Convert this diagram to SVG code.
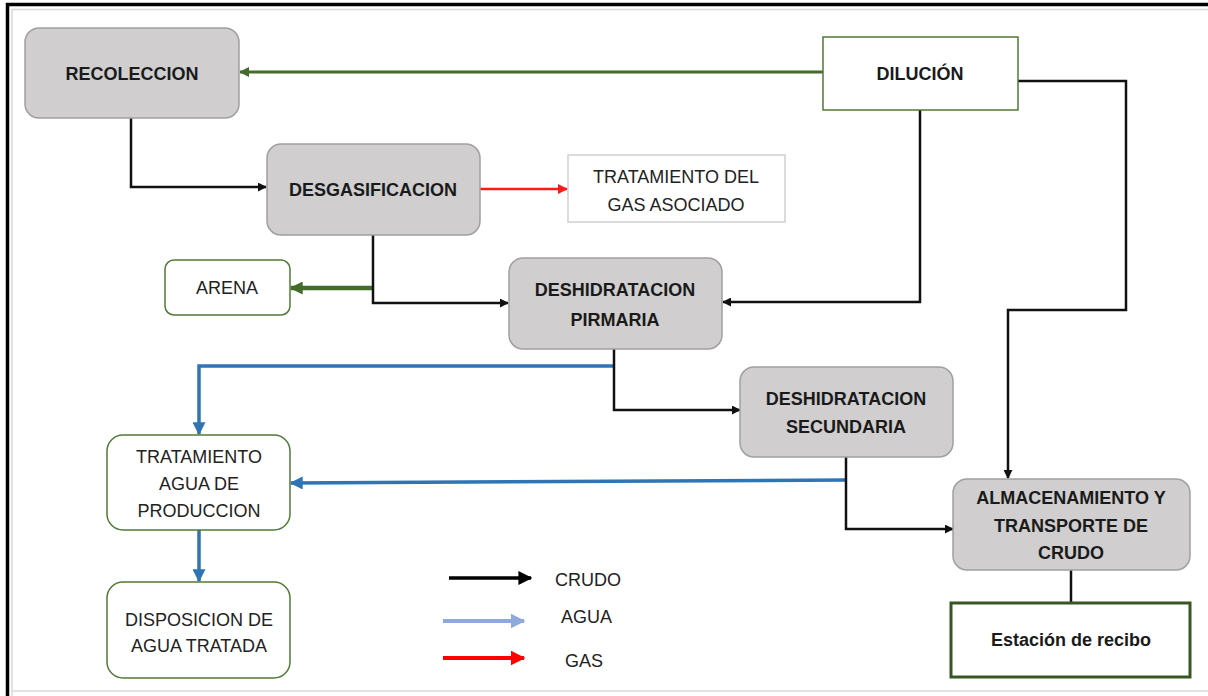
<svg xmlns="http://www.w3.org/2000/svg" width="1208" height="696" viewBox="0 0 1208 696">
<style>
.proc{fill:#d0cecf;stroke:#a0a0a0;stroke-width:1.5}
.gbox{fill:#ffffff;stroke:#507a34;stroke-width:1.5}
.lbox{fill:#ffffff;stroke:#d0d0d0;stroke-width:1.5}
.b{font-family:"Liberation Sans",Arial,sans-serif;font-weight:bold;font-size:18px;fill:#1a1a1a;text-anchor:middle}
.r{font-family:"Liberation Sans",Arial,sans-serif;font-size:18px;fill:#222;text-anchor:middle}
.rl{font-family:"Liberation Sans",Arial,sans-serif;font-size:18px;fill:#222}
.k{fill:none;stroke:#111;stroke-width:2.5}
.g{fill:none;stroke:#436b2b;stroke-width:3}
.bl{fill:none;stroke:#2e75b6;stroke-width:3.5}
.rd{fill:none;stroke:#ff1a1a;stroke-width:2.5}
</style>
<defs>
<marker id="ak" viewBox="0 0 10 10" refX="9" refY="5" markerWidth="9" markerHeight="9" markerUnits="userSpaceOnUse" orient="auto"><path d="M0,0 L10,5 L0,10 z" fill="#111"/></marker>
<marker id="ag" viewBox="0 0 10 10" refX="9" refY="5" markerWidth="10" markerHeight="10" markerUnits="userSpaceOnUse" orient="auto"><path d="M0,0 L10,5 L0,10 z" fill="#436b2b"/></marker>
<marker id="ag2" viewBox="0 0 10 10" refX="9" refY="5" markerWidth="13" markerHeight="13" markerUnits="userSpaceOnUse" orient="auto"><path d="M0,0 L10,5 L0,10 z" fill="#436b2b"/></marker>
<marker id="ab" viewBox="0 0 10 10" refX="9" refY="5" markerWidth="13" markerHeight="13" markerUnits="userSpaceOnUse" orient="auto"><path d="M0,0 L10,5 L0,10 z" fill="#2e75b6"/></marker>
<marker id="ar" viewBox="0 0 10 10" refX="9" refY="5" markerWidth="10" markerHeight="10" markerUnits="userSpaceOnUse" orient="auto"><path d="M0,0 L10,5 L0,10 z" fill="#ff1a1a"/></marker>
<marker id="Lk" viewBox="0 0 10 10" refX="9" refY="5" markerWidth="14" markerHeight="14" markerUnits="userSpaceOnUse" orient="auto"><path d="M0,0 L10,5 L0,10 z" fill="#000"/></marker>
<marker id="Lb" viewBox="0 0 10 10" refX="9" refY="5" markerWidth="15" markerHeight="15" markerUnits="userSpaceOnUse" orient="auto"><path d="M0,0 L10,5 L0,10 z" fill="#8eaadb"/></marker>
<marker id="Lr" viewBox="0 0 10 10" refX="9" refY="5" markerWidth="15" markerHeight="15" markerUnits="userSpaceOnUse" orient="auto"><path d="M0,0 L10,5 L0,10 z" fill="#ff0000"/></marker>
</defs>
<rect x="0" y="0" width="1208" height="696" fill="#ffffff"/>
<g id="frame">
<path d="M12,696 V9.5 H1208 M12,691 H1208" fill="none" stroke="#d9d9d9" stroke-width="1.5"/>
<path d="M7.5,696 V4.5 H1208" fill="none" stroke="#000" stroke-width="3.5"/>
</g>
<g id="connectors">
<path class="g" d="M823,72 H240" marker-end="url(#ag)"/>
<path class="k" d="M131,118 V187 H266" marker-end="url(#ak)"/>
<path class="rd" d="M480,189 H567" marker-end="url(#ar)"/>
<path class="g" style="stroke-width:4.5" d="M373,288 H291" marker-end="url(#ag2)"/>
<path class="k" d="M373,235 V303 H508" marker-end="url(#ak)"/>
<path class="k" d="M920,110 V302 H723" marker-end="url(#ak)"/>
<path class="k" d="M1018,81 H1126 V310 H1008 V478" marker-end="url(#ak)"/>
<path class="bl" d="M614,366 H199 V434" marker-end="url(#ab)"/>
<path class="k" d="M614,349 V410 H740" marker-end="url(#ak)"/>
<path class="bl" d="M846,480 L291,483" marker-end="url(#ab)"/>
<path class="k" d="M846,457 V529 H953" marker-end="url(#ak)"/>
<path class="k" d="M1071,570 V602"/>
<path class="bl" d="M199,530 V581" marker-end="url(#ab)"/>
</g>
<g id="recoleccion"><rect class="proc" x="25" y="28" width="214" height="90" rx="14"/><text class="b" x="132" y="80">RECOLECCION</text></g>
<g id="dilucion"><rect class="gbox" x="823" y="37" width="195" height="73"/><text class="b" x="920" y="80">DILUCIÓN</text></g>
<g id="desgasificacion"><rect class="proc" x="267" y="144" width="213" height="91" rx="14"/><text class="b" x="373" y="196">DESGASIFICACION</text></g>
<g id="tratamiento-gas"><rect class="lbox" x="568" y="155" width="217" height="67"/><text class="r" x="676" y="183">TRATAMIENTO DEL</text><text class="r" x="676" y="211">GAS ASOCIADO</text></g>
<g id="arena"><rect class="gbox" x="165" y="260" width="125" height="55" rx="9"/><text class="r" x="227" y="294">ARENA</text></g>
<g id="deshidratacion-primaria"><rect class="proc" x="509" y="258" width="213" height="91" rx="14"/><text class="b" x="615" y="296">DESHIDRATACION</text><text class="b" x="615" y="326">PIRMARIA</text></g>
<g id="deshidratacion-secundaria"><rect class="proc" x="740" y="367" width="213" height="90" rx="14"/><text class="b" x="846" y="405">DESHIDRATACION</text><text class="b" x="846" y="433">SECUNDARIA</text></g>
<g id="almacenamiento"><rect class="proc" x="953" y="479" width="237" height="91" rx="14"/><text class="b" x="1071" y="504">ALMACENAMIENTO Y</text><text class="b" x="1071" y="532">TRANSPORTE DE</text><text class="b" x="1071" y="559">CRUDO</text></g>
<g id="estacion"><rect x="951" y="603" width="239" height="74" fill="#fff" stroke="#375623" stroke-width="3"/><text class="b" x="1071" y="646">Estación de recibo</text></g>
<g id="tratamiento-agua"><rect class="gbox" x="107" y="435" width="183" height="95" rx="16"/><text class="r" x="199" y="463">TRATAMIENTO</text><text class="r" x="199" y="490">AGUA DE</text><text class="r" x="199" y="517">PRODUCCION</text></g>
<g id="disposicion"><rect class="gbox" x="107" y="582" width="183" height="96" rx="16"/><text class="r" x="199" y="626">DISPOSICION DE</text><text class="r" x="199" y="652">AGUA TRATADA</text></g>
<g id="legend">
<path d="M449,578 H531" fill="none" stroke="#000" stroke-width="3.5" marker-end="url(#Lk)"/>
<text class="rl" x="555" y="586">CRUDO</text>
<path d="M443,621 H524" fill="none" stroke="#8eaadb" stroke-width="4" marker-end="url(#Lb)"/>
<text class="rl" x="561" y="623">AGUA</text>
<path d="M443,658 H524" fill="none" stroke="#ff0000" stroke-width="4" marker-end="url(#Lr)"/>
<text class="rl" x="565" y="667">GAS</text>
</g>
</svg>
